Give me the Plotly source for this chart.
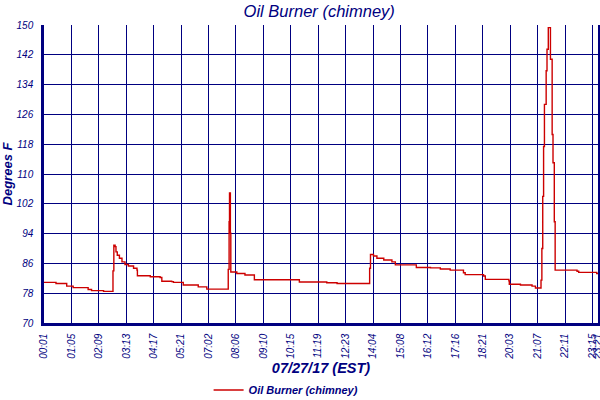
import plotly.graph_objects as go

# sample index (64 samples per labelled gridline) and temperature (°F)
sample_index = [0, 28, 53, 68, 103, 111, 139, 161, 163, 166, 168, 171, 176, 182, 189, 197, 209, 217,
                218, 248, 271, 275, 298, 302, 325, 360, 380, 430, 432, 433, 435, 436, 450, 469,
                491, 596, 660, 684, 715, 760, 762, 769, 777, 793, 812, 820, 869, 902, 925, 948,
                979, 983, 1026, 1030, 1085, 1086, 1112, 1139, 1147, 1160, 1162, 1164, 1166, 1168,
                1172, 1174, 1177, 1181, 1182, 1186, 1188, 1191, 1193, 1244, 1248, 1290, 1293]
temperature = [80.9, 80.6, 79.9, 79.5, 79.0, 78.7, 78.5, 84.0, 90.9, 90.5, 89.1, 88.2, 87.4, 86.4,
               85.7, 85.3, 84.7, 84.2, 82.7, 82.4, 82.2, 81.2, 81.1, 80.9, 80.2, 79.7, 79.1, 84.4,
               97.2, 104.9, 94.1, 83.7, 83.3, 82.9, 81.6, 81.0, 80.8, 80.6, 80.6, 84.7, 88.4, 88.0,
               87.4, 86.9, 86.4, 85.6, 84.9, 84.8, 84.5, 84.2, 83.5, 83.0, 82.6, 81.7, 81.3, 80.4,
               80.2, 79.9, 79.4, 81.5, 90.0, 104.0, 117.4, 128.7, 137.7, 143.5, 149.3, 149.3, 140.8,
               120.6, 113.0, 97.2, 84.2, 83.9, 83.6, 83.3, 83.3]

tick_positions = [0, 64, 128, 192, 256, 320, 384, 448, 512, 576, 640, 704, 768, 832, 896, 960,
                  1024, 1088, 1152, 1216, 1280, 1293]
tick_labels = ["00:01", "01:05", "02:09", "03:13", "04:17", "05:21", "07:02", "08:06", "09:10",
               "10:15", "11:19", "12:23", "14:04", "15:08", "16:12", "17:16", "18:21", "20:03",
               "21:07", "22:11", "23:15", "23:21"]
y_ticks = [70, 78, 86, 94, 102, 110, 118, 126, 134, 142, 150]

NAVY = "#000080"
FONT = "Liberation Sans"

fig = go.Figure()
fig.add_trace(go.Scatter(
    x=sample_index, y=temperature, mode="lines", line_shape="hv",
    line=dict(color="#cc0000", width=1.4), name="Oil Burner (chimney)"))

fig.update_layout(
    width=600, height=400,
    margin=dict(l=44, r=2, t=25, b=77, autoexpand=False),
    paper_bgcolor="white", plot_bgcolor="white",
    title=dict(text="Oil Burner (chimney)", x=0.532, xanchor="center",
               y=0.972, yref="container", yanchor="middle", automargin=False,
               font=dict(family=FONT, size=16.5, color=NAVY, style="italic")),
    showlegend=True,
    legend=dict(orientation="h", x=0.437, xanchor="center", y=-0.225, yanchor="middle",
                yref="paper", itemwidth=30,
                font=dict(family=FONT, size=11, color=NAVY, style="italic", weight="bold")),
)
fig.update_xaxes(
    range=[0, 1293], tickmode="array", tickvals=tick_positions, ticktext=tick_labels,
    tickangle=-90, showgrid=True, gridcolor=NAVY, gridwidth=1.2,
    showline=True, linecolor=NAVY, linewidth=2.5, zeroline=False,
    ticks="", ticklabelstandoff=4, automargin=False, ticklabeloverflow="allow",
    tickfont=dict(family=FONT, size=10, color=NAVY, style="italic"),
    title=dict(text="07/27/17 (EST)", standoff=5,
               font=dict(family=FONT, size=14.5, color=NAVY, style="italic", weight="bold")),
)
fig.update_yaxes(
    range=[70, 150], tickmode="array", tickvals=y_ticks,
    showgrid=True, gridcolor=NAVY, gridwidth=1.2,
    showline=True, linecolor=NAVY, linewidth=2.5, mirror=True, zeroline=False,
    ticks="", ticklabelstandoff=6, automargin=False,
    tickfont=dict(family=FONT, size=10, color=NAVY, style="italic"),
    title=dict(text="Degrees F", standoff=6,
               font=dict(family=FONT, size=13, color=NAVY, style="italic", weight="bold")),
)

fig.write_html("out.html", config={"displayModeBar": False},
               post_script="document.body.style.margin='0';")
